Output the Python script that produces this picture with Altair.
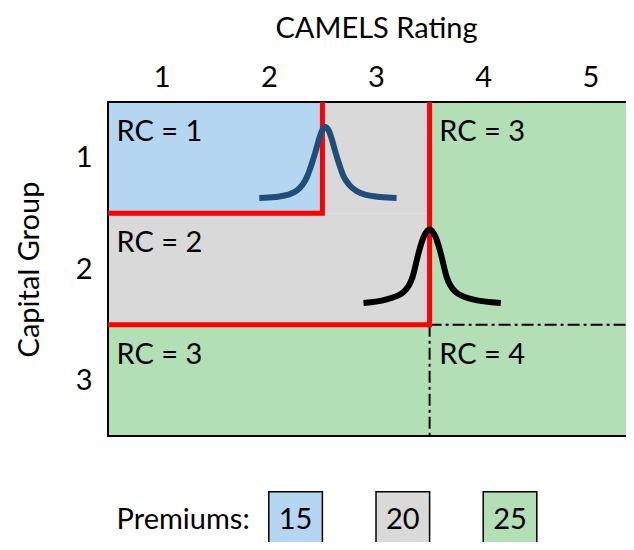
import altair as alt
import pandas as pd

FONT = "Lato"
FS = 29

# plot-area scale extents (the reference crops the right edge of column 5)
X_MIN, X_MAX = 0.5, 5.332
Y_MIN, Y_MAX = 0.5, 4.452
W, H = 518, 440

camels_ticks = [1, 2, 3, 4, 5]
capital_ticks = [1, 2, 3]

premium_levels = ["15", "20", "25"]
premium_colors = ["#B5D6F0", "#D9D9D9", "#B2DFB6"]

# risk-category cells
cell_x1 = [0.5, 2.5, 0.5, 3.5, 0.5]
cell_x2 = [2.5, 3.5, 3.5, 5.5, 3.5]
cell_y1 = [0.5, 0.5, 1.5, 0.5, 2.5]
cell_y2 = [1.5, 1.5, 2.5, 3.5, 3.5]
cell_premium = ["15", "20", "20", "25", "25"]

# red boundaries (two polylines)
red_id = ["a", "a", "a", "b", "b", "b"]
red_x = [0.5, 2.5, 2.5, 0.5, 3.5, 3.5]
red_y = [1.5, 1.5, 0.5, 2.5, 2.5, 0.5]
red_ord = [0, 1, 2, 0, 1, 2]

# dash-dot boundaries
dd_x1 = [3.5, 3.5]
dd_x2 = [X_MAX, 3.5]
dd_y1 = [2.5, 2.5]
dd_y2 = [2.5, 3.5]

# frame (top, left, bottom)
fr_x1 = [0.5, 0.5, 0.5]
fr_x2 = [X_MAX, 0.5, X_MAX]
fr_y1 = [0.5, 0.5, 3.5]
fr_y2 = [0.5, 3.5, 3.5]

# blue bell curve
blue_x = [1.911, 2.061, 2.173, 2.257, 2.313, 2.360, 2.397, 2.435, 2.472, 2.500, 2.528,
          2.556, 2.584, 2.621, 2.659, 2.696, 2.752, 2.818, 2.911, 3.042, 3.192]
blue_y = [1.362, 1.353, 1.335, 1.299, 1.246, 1.165, 1.066, 0.949, 0.823, 0.752, 0.725,
          0.752, 0.823, 0.949, 1.066, 1.165, 1.246, 1.299, 1.335, 1.353, 1.362]

# black bell curve
black_x = [2.883, 3.107, 3.257, 3.341, 3.397, 3.444, 3.500, 3.556, 3.603, 3.659, 3.743, 3.893, 4.164]
black_y = [2.305, 2.270, 2.207, 2.072, 1.856, 1.713, 1.645, 1.713, 1.856, 2.072, 2.207, 2.270, 2.305]

# region labels
rc_text = ["RC = 1", "RC = 2", "RC = 3", "RC = 3", "RC = 4"]
rc_x = [0.58, 0.58, 0.58, 3.59, 3.59]
rc_y = [0.77, 1.77, 2.77, 0.77, 2.77]

# premiums legend
leg_label = "Premiums:"
leg_label_x = 0.58
leg_y1, leg_y2 = 4.0, 4.5
box_x1 = [2.0, 3.0, 4.0]
box_x2 = [2.5, 3.5, 4.5]

xs = alt.Scale(domain=[X_MIN, X_MAX], nice=False, zero=False)
ys = alt.Scale(domain=[Y_MIN, Y_MAX], nice=False, zero=False, reverse=True)
cs = alt.Scale(domain=premium_levels, range=premium_colors)

unit_x = W / (X_MAX - X_MIN)
unit_y = H / (Y_MAX - Y_MIN)

x_axis = alt.Axis(
    orient="top", values=camels_ticks, title="CAMELS Rating", format="d",
    domain=False, ticks=False, tickSize=0, grid=False,
    labelFontSize=FS, titleFontSize=FS, labelFont=FONT, titleFont=FONT,
    labelColor="black", titleColor="black", titleFontWeight="normal",
    labelPadding=10, titlePadding=20, titleX=(3.0 - X_MIN) * unit_x)
y_axis = alt.Axis(
    orient="left", values=capital_ticks, title="Capital Group", format="d",
    domain=False, ticks=False, tickSize=0, grid=False,
    labelFontSize=FS, titleFontSize=FS, labelFont=FONT, titleFont=FONT,
    labelColor="black", titleColor="black", titleFontWeight="normal",
    labelPadding=16, titlePadding=31, titleY=(2.0 - Y_MIN) * unit_y)


def X(field):
    return alt.X(field, scale=xs, axis=x_axis)


def Y(field):
    return alt.Y(field, scale=ys, axis=y_axis)


cells = pd.DataFrame({"x": cell_x1, "x2": cell_x2, "y": cell_y1, "y2": cell_y2, "p": cell_premium})
cell_layer = alt.Chart(cells).mark_rect(clip=True).encode(
    x=X("x:Q"), x2="x2:Q", y=Y("y:Q"), y2="y2:Q",
    color=alt.Color("p:N", scale=cs, legend=None),
)

dd = pd.DataFrame({"x": dd_x1, "x2": dd_x2, "y": dd_y1, "y2": dd_y2})
dd_layer = alt.Chart(dd).mark_rule(color="black", strokeWidth=2, strokeDash=[12, 4, 3, 4]).encode(
    x=X("x:Q"), x2="x2:Q", y=Y("y:Q"), y2="y2:Q")

fr = pd.DataFrame({"x": fr_x1, "x2": fr_x2, "y": fr_y1, "y2": fr_y2})
fr_layer = alt.Chart(fr).mark_rule(color="black", strokeWidth=2, strokeCap="square").encode(
    x=X("x:Q"), x2="x2:Q", y=Y("y:Q"), y2="y2:Q")

red = pd.DataFrame({"id": red_id, "x": red_x, "y": red_y, "o": red_ord})
red_layer = alt.Chart(red).mark_line(color="#FF0000", strokeWidth=5, strokeJoin="miter", strokeCap="butt").encode(
    x=X("x:Q"), y=Y("y:Q"), detail="id:N", order="o:Q")

blue = pd.DataFrame({"x": blue_x, "y": blue_y, "o": list(range(len(blue_x)))})
blue_layer = alt.Chart(blue).mark_line(color="#1F4E79", strokeWidth=6, strokeCap="butt", interpolate="monotone").encode(
    x=X("x:Q"), y=Y("y:Q"), order="o:Q")

black = pd.DataFrame({"x": black_x, "y": black_y, "o": list(range(len(black_x)))})
black_layer = alt.Chart(black).mark_line(color="black", strokeWidth=6, strokeCap="butt", interpolate="monotone").encode(
    x=X("x:Q"), y=Y("y:Q"), order="o:Q")

rc = pd.DataFrame({"t": rc_text, "x": rc_x, "y": rc_y})
rc_layer = alt.Chart(rc).mark_text(align="left", baseline="middle", font=FONT, fontSize=FS, color="black").encode(
    x=X("x:Q"), y=Y("y:Q"), text="t:N")

leg_text = pd.DataFrame({"t": [leg_label], "x": [leg_label_x], "y": [(leg_y1 + leg_y2) / 2]})
leg_text_layer = alt.Chart(leg_text).mark_text(align="left", baseline="middle", font=FONT, fontSize=FS, color="black").encode(
    x=X("x:Q"), y=Y("y:Q"), text="t:N")

boxes = pd.DataFrame({"x": box_x1, "x2": box_x2, "y": [leg_y1] * 3, "y2": [leg_y2] * 3,
                      "p": premium_levels,
                      "xc": [(a + b) / 2 for a, b in zip(box_x1, box_x2)],
                      "yc": [(leg_y1 + leg_y2) / 2] * 3})
box_layer = alt.Chart(boxes).mark_rect(stroke="black", strokeWidth=1.5).encode(
    x=X("x:Q"), x2="x2:Q", y=Y("y:Q"), y2="y2:Q",
    color=alt.Color("p:N", scale=cs, legend=None))
box_text_layer = alt.Chart(boxes).mark_text(align="center", baseline="middle", font=FONT, fontSize=FS, color="black").encode(
    x=X("xc:Q"), y=Y("yc:Q"), text="p:N")

chart = alt.layer(
    cell_layer, dd_layer, fr_layer, red_layer, blue_layer, black_layer,
    rc_layer, leg_text_layer, box_layer, box_text_layer
).properties(
    width=W, height=H,
    padding={"left": 100, "top": 94, "right": 0, "bottom": 0},
    autosize=alt.AutoSizeParams(type="none"),
    background="white",
).configure_view(stroke=None)

chart.save("out.html", embed_options={"renderer": "svg", "actions": False})
